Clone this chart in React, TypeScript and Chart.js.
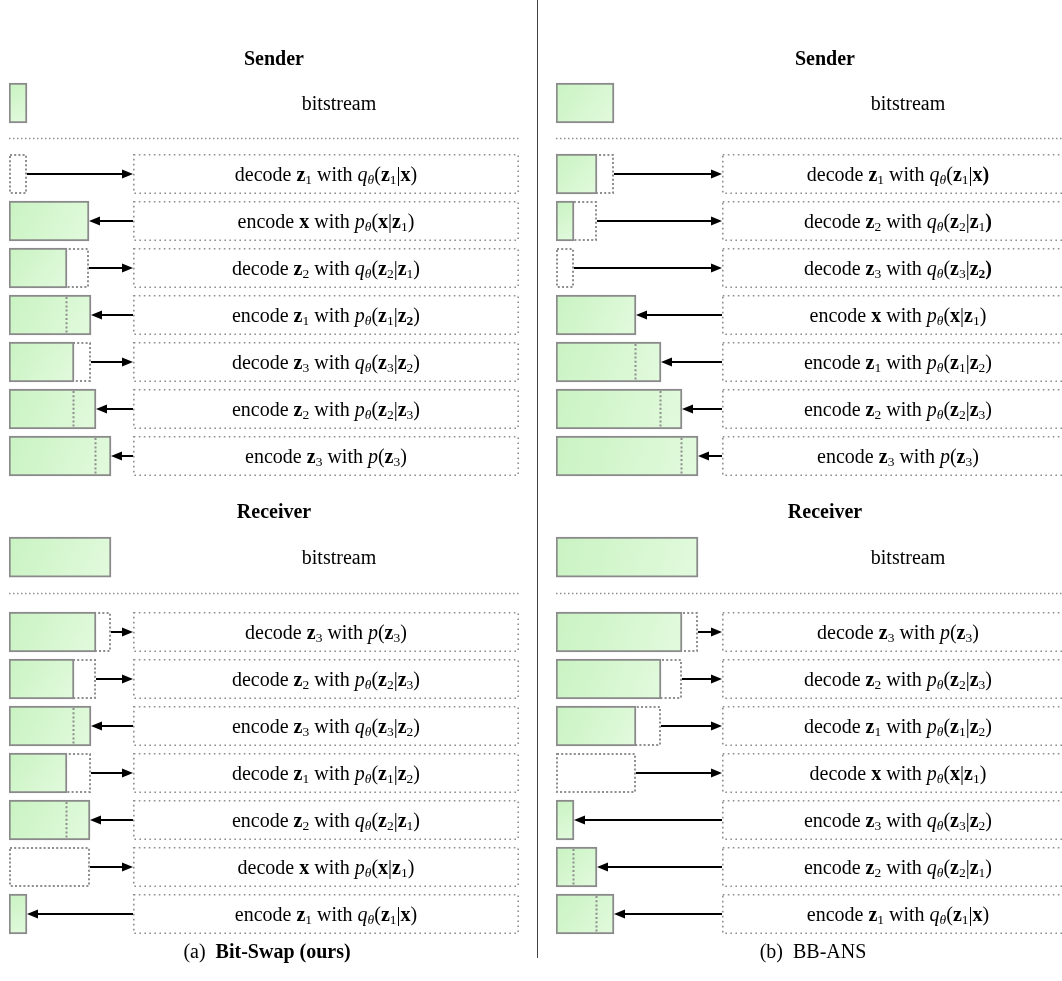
import React, { useEffect, useRef } from 'react';
import { Chart, registerables } from 'chart.js';

Chart.register(...registerables);

// ---------------- DATA ----------------
// Text markup: ~b{bold} ~i{italic} ~s{subscript} ~S{bold subscript} ~t{italic subscript}

// (a) Bit-Swap
const bitswapSenderSteps = [
  'decode ~b{z}~s{1} with ~i{q}~t{θ}(~b{z}~s{1}|~b{x})',
  'encode ~b{x} with ~i{p}~t{θ}(~b{x}|~b{z}~s{1})',
  'decode ~b{z}~s{2} with ~i{q}~t{θ}(~b{z}~s{2}|~b{z}~s{1})',
  'encode ~b{z}~s{1} with ~i{p}~t{θ}(~b{z}~s{1}|~b{z}~S{2})',
  'decode ~b{z}~s{3} with ~i{q}~t{θ}(~b{z}~s{3}|~b{z}~s{2})',
  'encode ~b{z}~s{2} with ~i{p}~t{θ}(~b{z}~s{2}|~b{z}~s{3})',
  'encode ~b{z}~s{3} with ~i{p}(~b{z}~s{3})',
];
const bitswapSenderStart = 18;
const bitswapSenderAfter = [0, 80, 58, 82, 65, 87, 102];

const bitswapReceiverSteps = [
  'decode ~b{z}~s{3} with ~i{p}(~b{z}~s{3})',
  'decode ~b{z}~s{2} with ~i{p}~t{θ}(~b{z}~s{2}|~b{z}~s{3})',
  'encode ~b{z}~s{3} with ~i{q}~t{θ}(~b{z}~s{3}|~b{z}~s{2})',
  'decode ~b{z}~s{1} with ~i{p}~t{θ}(~b{z}~s{1}|~b{z}~s{2})',
  'encode ~b{z}~s{2} with ~i{q}~t{θ}(~b{z}~s{2}|~b{z}~s{1})',
  'decode ~b{x} with ~i{p}~t{θ}(~b{x}|~b{z}~s{1})',
  'encode ~b{z}~s{1} with ~i{q}~t{θ}(~b{z}~s{1}|~b{x})',
];
const bitswapReceiverStart = 102;
const bitswapReceiverAfter = [87, 65, 82, 58, 81, 0, 18];

// (b) BB-ANS
const bbansSenderSteps = [
  'decode ~b{z}~s{1} with ~i{q}~t{θ}(~b{z}~s{1}|~b{x)}',
  'decode ~b{z}~s{2} with ~i{q}~t{θ}(~b{z}~s{2}|~b{z}~s{1}~b{)}',
  'decode ~b{z}~s{3} with ~i{q}~t{θ}(~b{z}~s{3}|~b{z}~S{2}~b{)}',
  'encode ~b{x} with ~i{p}~t{θ}(~b{x}|~b{z}~s{1})',
  'encode ~b{z}~s{1} with ~i{p}~t{θ}(~b{z}~s{1}|~b{z}~s{2})',
  'encode ~b{z}~s{2} with ~i{p}~t{θ}(~b{z}~s{2}|~b{z}~s{3})',
  'encode ~b{z}~s{3} with ~i{p}(~b{z}~s{3})',
];
const bbansSenderStart = 58;
const bbansSenderAfter = [41, 18, 0, 80, 105, 126, 142];

const bbansReceiverSteps = [
  'decode ~b{z}~s{3} with ~i{p}(~b{z}~s{3})',
  'decode ~b{z}~s{2} with ~i{p}~t{θ}(~b{z}~s{2}|~b{z}~s{3})',
  'decode ~b{z}~s{1} with ~i{p}~t{θ}(~b{z}~s{1}|~b{z}~s{2})',
  'decode ~b{x} with ~i{p}~t{θ}(~b{x}|~b{z}~s{1})',
  'encode ~b{z}~s{3} with ~i{q}~t{θ}(~b{z}~s{3}|~b{z}~s{2})',
  'encode ~b{z}~s{2} with ~i{q}~t{θ}(~b{z}~s{2}|~b{z}~s{1})',
  'encode ~b{z}~s{1} with ~i{q}~t{θ}(~b{z}~s{1}|~b{x})',
];
const bbansReceiverStart = 142;
const bbansReceiverAfter = [126, 105, 80, 0, 18, 41, 58];

const sectionTitles = ['Sender', 'Receiver'];
const bitstreamLabel = 'bitstream';
const captionA = '(a)  ~b{Bit-Swap (ours)}';
const captionB = '(b)  BB-ANS';

// ---------------- LAYOUT / STYLE ----------------
const CANVAS_H = 981;
const ROW_PX = 47;
const FIRST_ROW_PX = 174;
const SERIF = "'Liberation Serif', 'Times New Roman', Times, serif";
const FS = 20;
const SUB = 13.5;
const DOT = '#8e8e8e';
const BAR_BORDER = '#8a8a8a';
const BAR_H = 40;

const SLOTS = {
  sender: { header: -2.47, bit: -1.51, sep: -0.77, row0: 0 },
  receiver: { header: 7.17, bit: 8.15, sep: 8.91, row0: 9.745 },
  caption: 16.53,
};

type Section = { title: string; steps: string[]; start: number; after: number[]; slots: { header: number; bit: number; sep: number; row0: number } };
type PanelDef = {
  width: number; x0: number; boxStart: number; boxEnd: number; headerX: number; bitX: number; captionX: number; sepEnd: number;
  caption: string; sections: Section[];
};

const leftPanel: PanelDef = {
  width: 537, x0: 9, boxStart: 124, boxEnd: 510, headerX: 265, bitX: 330, captionX: 258, sepEnd: 510,
  caption: captionA,
  sections: [
    { title: sectionTitles[0], steps: bitswapSenderSteps, start: bitswapSenderStart, after: bitswapSenderAfter, slots: SLOTS.sender },
    { title: sectionTitles[1], steps: bitswapReceiverSteps, start: bitswapReceiverStart, after: bitswapReceiverAfter, slots: SLOTS.receiver },
  ],
};
const rightPanel: PanelDef = {
  width: 524, x0: 18, boxStart: 166, boxEnd: 518, headerX: 269, bitX: 352, captionX: 257, sepEnd: 530,
  caption: captionB,
  sections: [
    { title: sectionTitles[0], steps: bbansSenderSteps, start: bbansSenderStart, after: bbansSenderAfter, slots: SLOTS.sender },
    { title: sectionTitles[1], steps: bbansReceiverSteps, start: bbansReceiverStart, after: bbansReceiverAfter, slots: SLOTS.receiver },
  ],
};

// ---------------- RICH TEXT ----------------
type Seg = { t: string; k: string };
function parseRich(s: string): Seg[] {
  const out: Seg[] = [];
  const re = /~([bsSit])\{([^}]*)\}/g;
  let last = 0;
  let m: RegExpExecArray | null;
  while ((m = re.exec(s))) {
    if (m.index > last) out.push({ t: s.slice(last, m.index), k: 'n' });
    out.push({ t: m[2], k: m[1] });
    last = re.lastIndex;
  }
  if (last < s.length) out.push({ t: s.slice(last), k: 'n' });
  return out;
}
function segFont(k: string, fs: number) {
  const sub = (fs * SUB) / FS;
  switch (k) {
    case 'b': return `bold ${fs}px ${SERIF}`;
    case 'i': return `italic ${fs}px ${SERIF}`;
    case 's': return `${sub}px ${SERIF}`;
    case 'S': return `bold ${sub}px ${SERIF}`;
    case 't': return `italic ${sub}px ${SERIF}`;
    default: return `${fs}px ${SERIF}`;
  }
}
function drawRich(ctx: CanvasRenderingContext2D, s: string, cx: number, cy: number, fs = FS) {
  const segs = parseRich(s);
  const ws: number[] = [];
  let w = 0;
  for (const g of segs) {
    ctx.font = segFont(g.k, fs);
    const mw = ctx.measureText(g.t).width;
    ws.push(mw);
    w += mw;
  }
  let x = cx - w / 2;
  ctx.textAlign = 'left';
  ctx.textBaseline = 'alphabetic';
  ctx.fillStyle = '#000';
  const base = cy + fs * 0.33;
  segs.forEach((g, i) => {
    ctx.font = segFont(g.k, fs);
    const isSub = g.k === 's' || g.k === 'S' || g.k === 't';
    ctx.fillText(g.t, x, base + (isSub ? fs * 0.17 : 0));
    x += ws[i];
  });
}

function arrow(ctx: CanvasRenderingContext2D, from: number, to: number, y: number) {
  const dir = Math.sign(to - from) || 1;
  const HL = 11;
  const HW = 4.5;
  ctx.save();
  ctx.setLineDash([]);
  ctx.strokeStyle = '#000';
  ctx.fillStyle = '#000';
  ctx.lineWidth = 2;
  ctx.beginPath();
  ctx.moveTo(from, y);
  ctx.lineTo(to - dir * HL, y);
  ctx.stroke();
  ctx.beginPath();
  ctx.moveTo(to, y);
  ctx.lineTo(to - dir * HL, y - HW);
  ctx.lineTo(to - dir * HL, y + HW);
  ctx.closePath();
  ctx.fill();
  ctx.restore();
}

function befores(sec: Section) {
  return [sec.start, ...sec.after.slice(0, -1)];
}

function makePlugin(panel: PanelDef) {
  return {
    id: 'diagram',
    beforeDatasetsDraw(chart: any) {
      const { ctx } = chart;
      const xs = chart.scales.x;
      const ys = chart.scales.y;
      ctx.save();
      const bx1 = xs.getPixelForValue(panel.boxStart);
      const bx2 = xs.getPixelForValue(panel.boxEnd);
      const boxCx = (bx1 + bx2) / 2;
      panel.sections.forEach((sec) => {
        ctx.fillStyle = '#000';
        ctx.font = `bold ${FS}px ${SERIF}`;
        ctx.textAlign = 'center';
        ctx.textBaseline = 'alphabetic';
        ctx.fillText(sec.title, xs.getPixelForValue(panel.headerX), ys.getPixelForValue(sec.slots.header) + FS * 0.33);
        ctx.font = `${FS}px ${SERIF}`;
        ctx.fillText(bitstreamLabel, xs.getPixelForValue(panel.bitX), ys.getPixelForValue(sec.slots.bit) + FS * 0.33);
        const sy = Math.round(ys.getPixelForValue(sec.slots.sep)) + 0.5;
        ctx.strokeStyle = DOT;
        ctx.lineWidth = 1.5;
        ctx.setLineDash([1.5, 2.5]);
        ctx.beginPath();
        ctx.moveTo(xs.getPixelForValue(0), sy);
        ctx.lineTo(xs.getPixelForValue(panel.sepEnd), sy);
        ctx.stroke();
        sec.steps.forEach((txt, i) => {
          const y = ys.getPixelForValue(sec.slots.row0 + i);
          ctx.strokeStyle = DOT;
          ctx.lineWidth = 1.6;
          ctx.setLineDash([1.6, 3.4]);
          ctx.strokeRect(bx1 + 0.8, y - BAR_H / 2 + 0.8, bx2 - bx1 - 1.6, BAR_H - 1.6);
          ctx.setLineDash([]);
          drawRich(ctx, txt, boxCx, y);
        });
      });
      drawRich(ctx, panel.caption, xs.getPixelForValue(panel.captionX), ys.getPixelForValue(SLOTS.caption));
      const meta = chart.getDatasetMeta(1);
      const raws = chart.data.datasets[1].data;
      meta.data.forEach((el: any, i: number) => {
        const r = raws[i];
        if (r.after >= r.before) return;
        const l = Math.min(el.x, el.base);
        const rr = Math.max(el.x, el.base);
        const t = el.y - el.height / 2;
        ctx.strokeStyle = DOT;
        ctx.lineWidth = 2;
        ctx.setLineDash([2, 2.2]);
        ctx.strokeRect(l + 1, t + 1, rr - l - 2, el.height - 2);
      });
      ctx.restore();
    },
    afterDatasetsDraw(chart: any) {
      const { ctx } = chart;
      const xs = chart.scales.x;
      const ys = chart.scales.y;
      ctx.save();
      const meta = chart.getDatasetMeta(1);
      const raws = chart.data.datasets[1].data;
      meta.data.forEach((el: any, i: number) => {
        const r = raws[i];
        if (r.after <= r.before) return;
        const x = Math.round(el.x) - 0.5;
        const t = el.y - el.height / 2;
        ctx.strokeStyle = DOT;
        ctx.lineWidth = 2;
        ctx.setLineDash([2, 2.2]);
        ctx.beginPath();
        ctx.moveTo(x, t + 2);
        ctx.lineTo(x, t + el.height - 2);
        ctx.stroke();
      });
      const bx1 = xs.getPixelForValue(panel.boxStart);
      panel.sections.forEach((sec) => {
        const bf = befores(sec);
        sec.after.forEach((a, i) => {
          const y = ys.getPixelForValue(sec.slots.row0 + i);
          if (a < bf[i]) arrow(ctx, xs.getPixelForValue(bf[i]), bx1, y);
          else arrow(ctx, bx1, xs.getPixelForValue(a), y);
        });
      });
      ctx.restore();
    },
  };
}

function greenFill(c: any) {
  const ch = c.chart;
  const raw = c.raw;
  const fallback = '#d3f6cd';
  if (!raw || !ch || !ch.scales || !ch.scales.y || !ch.scales.x) return fallback;
  const yc = ch.scales.y.getPixelForValue(raw.y);
  const x0 = ch.scales.x.getPixelForValue(0);
  const x1 = ch.scales.x.getPixelForValue(raw.x[1]);
  if (![yc, x0, x1].every((v) => Number.isFinite(v))) return fallback;
  const g = ch.ctx.createLinearGradient(x0, yc - BAR_H / 2, x1, yc + BAR_H / 2);
  g.addColorStop(0, '#c9f3c2');
  g.addColorStop(1, '#e2fadd');
  return g;
}

function buildConfig(panel: PanelDef): any {
  const yMin = -FIRST_ROW_PX / ROW_PX;
  const yMax = yMin + CANVAS_H / ROW_PX;
  const green: any[] = [];
  const prev: any[] = [];
  panel.sections.forEach((sec) => {
    green.push({ x: [0, sec.start], y: sec.slots.bit });
    const bf = befores(sec);
    sec.after.forEach((a, i) => {
      const slot = sec.slots.row0 + i;
      if (a > 0) green.push({ x: [0, a], y: slot });
      if (bf[i] > 0) prev.push({ x: [0, bf[i]], y: slot, before: bf[i], after: a });
    });
  });
  return {
    type: 'bar',
    data: {
      datasets: [
        {
          label: 'bitstream',
          data: green,
          grouped: false,
          barThickness: BAR_H,
          borderWidth: 2,
          borderColor: BAR_BORDER,
          borderSkipped: false,
          backgroundColor: greenFill,
          order: 1,
        },
        {
          label: 'previous bitstream',
          data: prev,
          grouped: false,
          barThickness: BAR_H,
          borderWidth: 0,
          backgroundColor: 'rgba(0,0,0,0)',
          order: 2,
        },
      ],
    },
    options: {
      indexAxis: 'y',
      responsive: false,
      animation: false,
      events: [],
      devicePixelRatio: 1,
      layout: { padding: { left: panel.x0, right: 0, top: 0, bottom: 0 } },
      scales: {
        x: { type: 'linear', display: false, offset: false, min: 0, max: panel.width - panel.x0 },
        y: { type: 'linear', display: false, offset: false, reverse: true, min: yMin, max: yMax, grid: { offset: false } },
      },
      plugins: { legend: { display: false }, tooltip: { enabled: false }, title: { display: false } },
    },
    plugins: [makePlugin(panel)],
  };
}

function Panel({ panel }: { panel: PanelDef }) {
  const ref = useRef<HTMLCanvasElement>(null);
  useEffect(() => {
    const chart = new Chart(ref.current as HTMLCanvasElement, buildConfig(panel));
    chart.update();
    return () => chart.destroy();
  }, [panel]);
  return (
    <canvas
      ref={ref}
      width={panel.width}
      height={CANVAS_H}
      style={{ display: 'block', width: panel.width, height: CANVAS_H }}
    />
  );
}

export default function App() {
  useEffect(() => {
    document.body.style.margin = '0';
    document.body.style.background = '#fff';
  }, []);
  return (
    <div style={{ display: 'flex', width: 1062, height: CANVAS_H, background: '#fff', overflow: 'hidden' }}>
      <Panel panel={leftPanel} />
      <div style={{ width: 1, height: 958, background: '#444', flex: 'none' }} />
      <Panel panel={rightPanel} />
    </div>
  );
}
